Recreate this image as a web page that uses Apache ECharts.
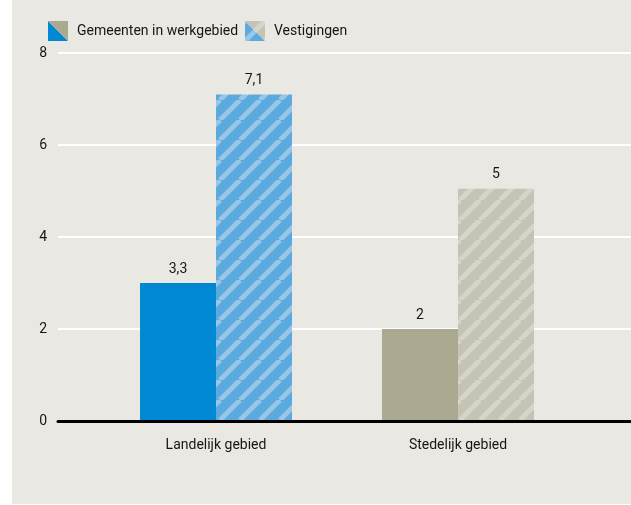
<!DOCTYPE html>
<html>
<head>
<meta charset="utf-8">
<script src="https://cdn.jsdelivr.net/npm/echarts@6/dist/echarts.min.js"></script>
<style>
  html, body { margin: 0; padding: 0; background: #fff; }
  #app { width: 631px; height: 505px; }
</style>
</head>
<body>
<div id="app"></div>
<script>
// data
const categories = ['Landelijk gebied', 'Stedelijk gebied'];
const seriesNames = ['Gemeenten in werkgebied', 'Vestigingen'];
const gemeenten = [3.0, 2];
const gemeentenLabels = ['3,3', '2'];
const vestigingen = [7.1, 5.05];
const vestigingenLabels = ['7,1', '5'];
const yTicks = [0, 2, 4, 6, 8];

const FONT = 'Roboto';
const TXT = '#161616';
const BLUE = '#0089d2';
const GREY = '#aca991';

// diagonal stripes as canvas pattern
function stripes(base, line) {
    const s = 20;
    const c = document.createElement('canvas');
    c.width = s; c.height = s;
    const ctx = c.getContext('2d');
    ctx.fillStyle = base;
    ctx.fillRect(0, 0, s, s);
    ctx.strokeStyle = line;
    ctx.lineWidth = 5;
    [-s, 0, s].forEach(o => {
        ctx.beginPath();
        ctx.moveTo(o, s);
        ctx.lineTo(o + s, 0);
        ctx.stroke();
    });
    return { image: c, repeat: 'repeat' };
}
const blueHatch = stripes('#5aaadf', '#99c6e7');
const greyHatch = stripes('#c5c4b4', '#d6d5c9');

// legend entry: square split on the diagonal, lower-left part blue, upper-right grey
function legendItem(x, name, lower, upper) {
    return {
        type: 'group', left: x, top: 21, z: 100,
        children: [
            { type: 'polygon', shape: { points: [[0, 0], [0, 20], [20, 20]] }, style: { fill: lower } },
            { type: 'polygon', shape: { points: [[0, 0], [20, 0], [20, 20]] }, style: { fill: upper } },
            { type: 'text', x: 29, y: 10, style: { text: name, fill: TXT, font: '14px ' + FONT, verticalAlign: 'middle' } }
        ]
    };
}

const myChart = echarts.init(document.getElementById('app'));

const labelOpt = (texts) => ({
    show: true,
    position: 'top',
    distance: 7,
    color: TXT,
    fontFamily: FONT,
    fontSize: 14,
    formatter: p => texts[p.dataIndex]
});

const option = {
    backgroundColor: '#fff',
    animation: false,
    textStyle: { fontFamily: FONT },
    graphic: [
        { type: 'rect', left: 12, top: 0, z: -10, shape: { width: 619, height: 504 }, style: { fill: '#e9e8e3' } },
        legendItem(48, seriesNames[0], BLUE, GREY),
        legendItem(245, seriesNames[1], blueHatch, greyHatch)
    ],
    grid: [
        { left: 58, right: 0, top: 53, bottom: 84 },
        { left: 95, right: 52, top: 53, bottom: 84 }
    ],
    xAxis: [
        {
            gridIndex: 0, type: 'category', data: [''], z: 10,
            axisLine: { lineStyle: { color: '#000', width: 3 } },
            axisTick: { show: false }, axisLabel: { show: false }
        },
        {
            gridIndex: 1, type: 'category', data: categories,
            axisLine: { show: false }, axisTick: { show: false },
            axisLabel: { fontFamily: FONT, fontSize: 14, color: TXT, margin: 17 }
        }
    ],
    yAxis: [
        {
            gridIndex: 0, type: 'value', min: yTicks[0], max: yTicks[yTicks.length - 1], interval: 2,
            axisLine: { show: false }, axisTick: { show: false },
            axisLabel: { fontFamily: FONT, fontSize: 14, color: TXT, margin: 11 },
            splitLine: { lineStyle: { color: '#ffffff', width: 2 } }
        },
        {
            gridIndex: 1, type: 'value', min: yTicks[0], max: yTicks[yTicks.length - 1], interval: 2,
            show: false, splitLine: { show: false }
        }
    ],
    series: [
        {
            name: seriesNames[0], type: 'bar', xAxisIndex: 1, yAxisIndex: 1,
            barWidth: 76, barGap: '0%',
            itemStyle: { color: BLUE },
            label: labelOpt(gemeentenLabels),
            data: gemeenten.map((v, i) => ({ value: v, itemStyle: { color: i === 0 ? BLUE : GREY } }))
        },
        {
            name: seriesNames[1], type: 'bar', xAxisIndex: 1, yAxisIndex: 1,
            barWidth: 76, barGap: '0%',
            itemStyle: { color: blueHatch },
            label: labelOpt(vestigingenLabels),
            data: vestigingen.map((v, i) => ({ value: v, itemStyle: { color: i === 0 ? blueHatch : greyHatch } }))
        }
    ]
};

myChart.setOption(option);
</script>
</body>
</html>
